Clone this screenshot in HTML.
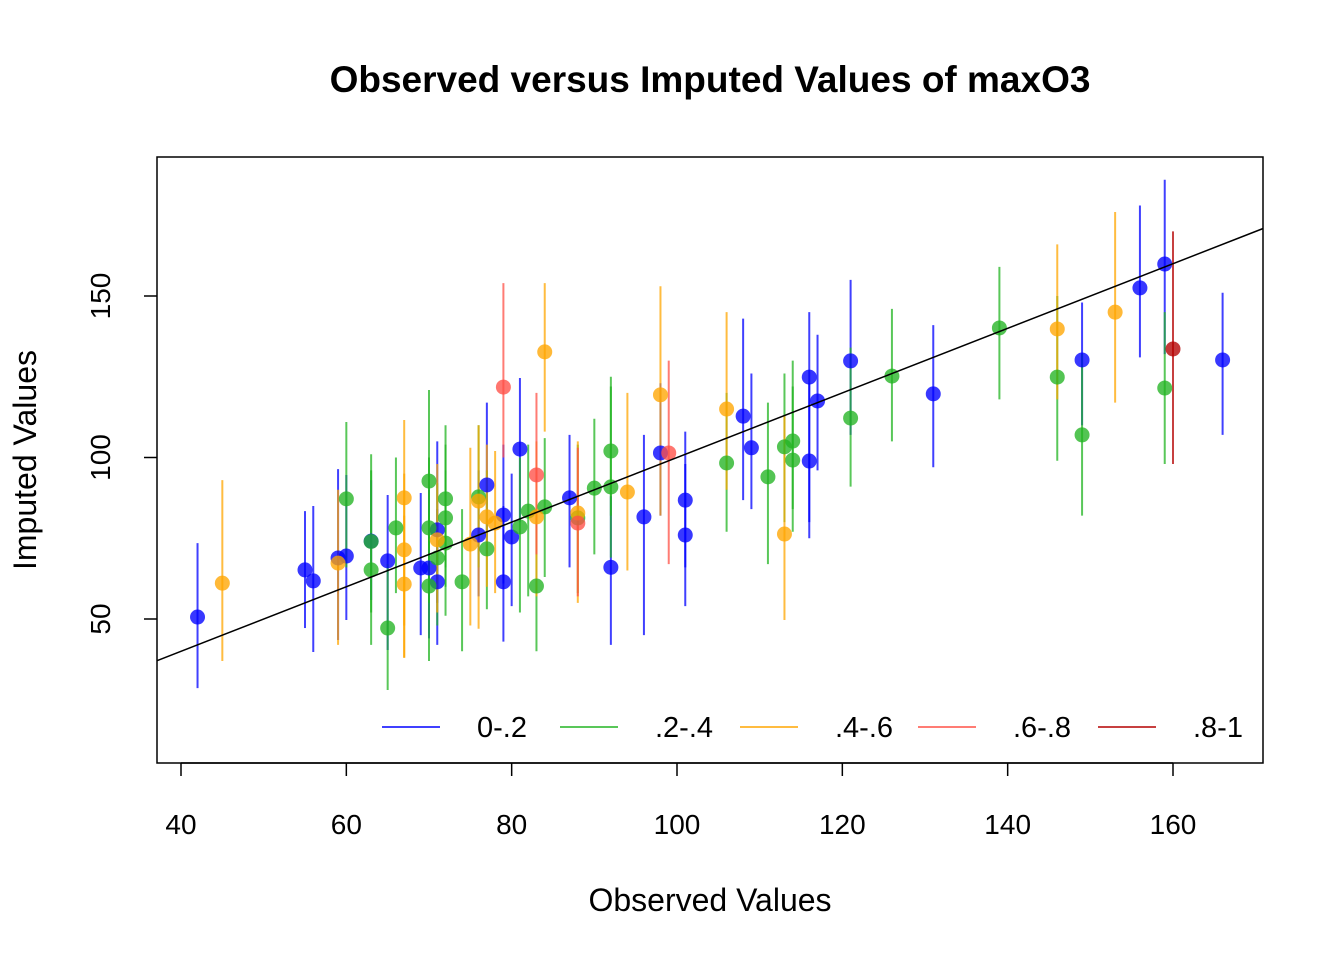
<!DOCTYPE html>
<html><head><meta charset="utf-8"><style>
body{margin:0;background:#fff}
svg text{font-family:"Liberation Sans",Arial,sans-serif}
</style></head><body>
<svg id="chart" width="1344" height="960" xmlns="http://www.w3.org/2000/svg">
<text x="710" y="92" text-anchor="middle" font-size="37" font-weight="bold">Observed versus Imputed Values of maxO3</text>
<text x="710" y="911" text-anchor="middle" font-size="32">Observed Values</text>
<text transform="translate(36,460) rotate(-90)" text-anchor="middle" font-size="32">Imputed Values</text>
<g id="marks"></g>
<rect x="157" y="157" width="1106" height="606" fill="none" stroke="#000" stroke-width="1.5"/>
<g id="axes"></g>
<g id="legend"></g>
</svg>
<script>
const obs = [42,55,56,59,60,63,65,69,70,71,71,77,76,79,79,80,81,87,92,96,98,101,101,108,109,116,116,117,121,131,149,156,159,166,
 60,63,63,65,66,70,70,70,71,72,72,72,74,76,77,81,82,83,84,88,90,92,92,106,111,113,114,114,121,126,139,146,149,159,
 45,59,67,67,67,71,75,76,77,78,83,84,88,94,98,106,113,146,153,
 79,83,88,99,
 160];
const imp = [50.6,65.2,61.8,68.9,69.5,74.1,68,65.8,65.8,77.6,61.5,91.5,76,82.2,61.5,75.4,102.6,87.5,66,81.6,101.4,86.8,76,112.8,103,124.9,98.9,117.5,129.9,119.7,130.2,152.5,159.9,130.2,
 87.2,74,65.2,47.2,78.2,92.7,78.2,60.2,68.9,87.2,81.3,73.5,61.5,87.8,71.7,78.5,83.4,60.2,84.7,81.3,90.5,90.9,102,98.3,94,103.3,105.1,99.2,112.2,125.2,140.1,124.9,107,121.5,
 61.1,67.3,87.5,71.4,60.8,74.5,73.2,86.5,81.6,79.7,81.6,132.7,82.8,89.3,119.4,115,76.3,139.8,145,
 121.8,94.6,79.7,101.4,
 133.6];
const lo = [28.6,47.2,39.8,43.5,49.7,55.9,40.4,45,44,55,42,70,57,61,43,54,80,66,42,45,82,66,54,86.8,84,80,75,96,107,97,110,131,132,107,
 66,52,42,28,58,72,55,37,48,66,60,51,40,66,53,52,57,40,63,58,70,69,82,77,67,80,84,77,91,105,118,99,82,98,
 37,42,38,48,38,52,48,47,60,58,57,108,55,65,82,90,49.7,118,117,
 100,70,57,67,
 98];
const hi = [73.5,83.4,85,96.4,94.6,93,88.4,89,90,105,84,117,96,104,85,95,124.6,107,88,107,123,108,98,143,126,145,123,138,155,141,148,178,186,151,
 111,96,101,67,100,120.9,100,82,92,110,104,96,84,110,96,100,104,82,106,104,112,125,122,120,117,126,130,122,134,146,159,150,132,145,
 93,90,111.6,95,82,98,103,110,104,102,105,154,105,120,153,145,112.8,166,176,
 154,120,103,130,
 170];
const grp = [].concat(Array(34).fill(0),Array(34).fill(1),Array(19).fill(2),Array(4).fill(3),[4]);
const groupLabels = ["0-.2",".2-.4",".4-.6",".6-.8",".8-1"];
const xTicks = [40,60,80,100,120,140,160];
const yTicks = [50,100,150];
const colors = ["rgb(0,0,255)","rgb(34,180,34)","rgb(255,165,0)","rgb(255,80,70)","rgb(180,0,0)"];
const X = v => 181 + (v-40)*992/120;
const Y = v => 619 - (v-50)*3.23;
const NS = "http://www.w3.org/2000/svg";
function mk(tag, attrs, parent){const e=document.createElementNS(NS,tag);for(const k in attrs)e.setAttribute(k,attrs[k]);parent.appendChild(e);return e;}
const marks=document.getElementById('marks'), axes=document.getElementById('axes'), legend=document.getElementById('legend');
for(let i=0;i<obs.length;i++){
  const l=mk('line',{x1:X(obs[i]),x2:X(obs[i]),y1:Y(lo[i]),y2:Y(hi[i]),stroke:colors[grp[i]],'stroke-width':2,'stroke-opacity':0.75},marks);
  
  
}
for(let i=0;i<obs.length;i++){
  const c=mk('circle',{cx:X(obs[i]),cy:Y(imp[i]),r:7.5,fill:colors[grp[i]],'fill-opacity':0.78},marks);
  
  
}
const ref=mk('line',{x1:X(37.1),y1:Y(37.1),x2:X(170.9),y2:Y(170.9),stroke:'#000','stroke-width':1.5},marks);


mk('line',{x1:X(40),x2:X(160),y1:763,y2:763,stroke:'#000','stroke-width':1.5},axes);
xTicks.forEach(t=>{
  mk('line',{x1:X(t),x2:X(t),y1:763,y2:776,stroke:'#000','stroke-width':1.5},axes);
  const tx=mk('text',{x:X(t),y:834,'text-anchor':'middle','font-size':28},axes);tx.textContent=t;
  
  
});
yTicks.forEach(t=>{
  mk('line',{x1:144,x2:157,y1:Y(t),y2:Y(t),stroke:'#000','stroke-width':1.5},axes);
  const tx=mk('text',{transform:`translate(110,${Y(t)}) rotate(-90)`,'text-anchor':'middle','font-size':28},axes);tx.textContent=t;
  
  
});
const lx=[382,560,740,918,1098];
groupLabels.forEach((g,i)=>{
  const l=mk('line',{x1:lx[i],x2:lx[i]+58,y1:727,y2:727,stroke:colors[i],'stroke-width':2,'stroke-opacity':0.75},legend);
  
  
  const t=mk('text',{x:lx[i]+95,y:737,'font-size':29},legend);t.textContent=g;
  
  
});
</script>
</body></html>
